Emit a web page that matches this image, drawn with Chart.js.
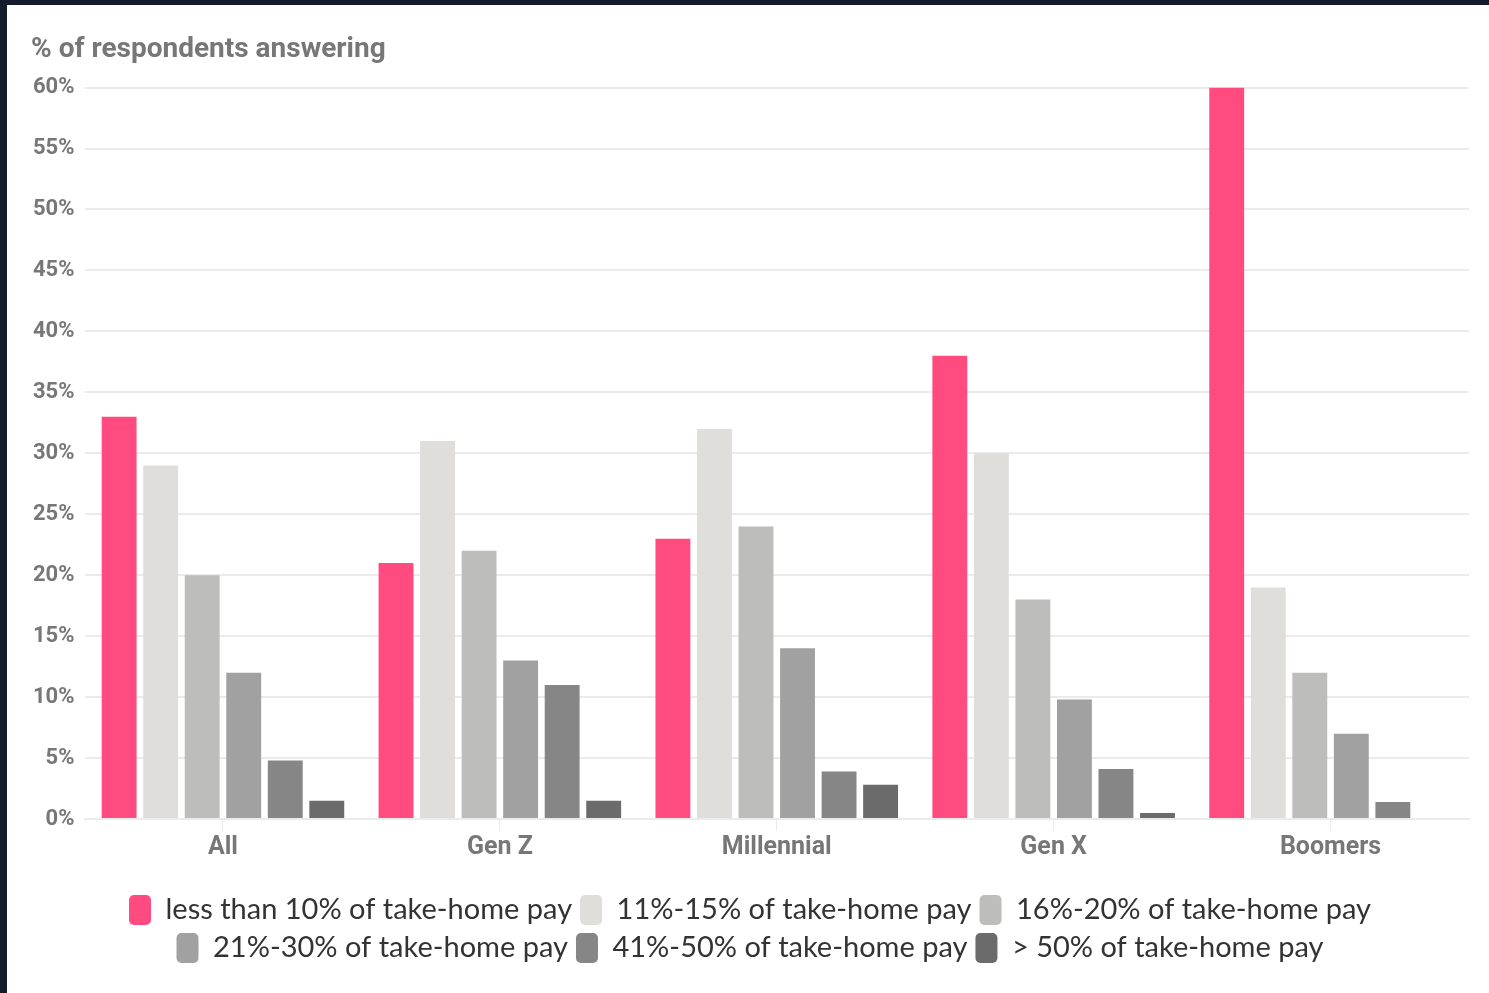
<!DOCTYPE html>
<html>
<head>
<meta charset="utf-8">
<script src="https://cdn.jsdelivr.net/npm/chart.js@4.4.0/dist/chart.umd.min.js"></script>
<style>
  html, body { margin: 0; padding: 0; background: #141b2d; }
  #wrap { position: absolute; left: 7px; top: 5px; width: 1482px; height: 988px; background: #fff; }
</style>
</head>
<body>
<div id="wrap"><canvas id="chart"></canvas></div>
<script>
// survey: share of take-home pay, by generation
const groups = ['All', 'Gen Z', 'Millennial', 'Gen X', 'Boomers'];
const seriesNames = [
  'less than 10% of take-home pay',
  '11%-15% of take-home pay',
  '16%-20% of take-home pay',
  '21%-30% of take-home pay',
  '41%-50% of take-home pay',
  '> 50% of take-home pay'
];
const lt10 = [33, 21, 23, 38, 60];
const p11to15 = [29, 31, 32, 30, 19];
const p16to20 = [20, 22, 24, 18, 12];
const p21to30 = [12, 13, 14, 9.8, 7];
const p41to50 = [4.8, 11, 3.9, 4.1, 1.4];
const over50 = [1.5, 1.5, 2.8, 0.5, null];
const yTicks = [0, 5, 10, 15, 20, 25, 30, 35, 40, 45, 50, 55, 60];

const colors = ['#ff4b80', '#dfdeda', '#bdbdbb', '#a1a1a1', '#868686', '#6b6b6b'];
const values = [lt10, p11to15, p16to20, p21to30, p41to50, over50];

const BOLD = 'Roboto, "Open Sans", sans-serif';
const LIGHT = 'Lato, "Open Sans", sans-serif';

new Chart(document.getElementById('chart'), {
  type: 'bar',
  data: {
    labels: groups,
    datasets: values.map((v, i) => ({
      label: seriesNames[i],
      data: v,
      backgroundColor: colors[i],
      borderWidth: 0,
      categoryPercentage: 0.9,
      barPercentage: 0.84
    }))
  },
  options: {
    responsive: true,
    maintainAspectRatio: false,
    animation: false,
    layout: { padding: { left: 24, right: 20, top: 8, bottom: 20 } },
    plugins: {
      title: {
        display: true,
        text: '% of respondents answering',
        align: 'start',
        color: '#777',
        font: { family: BOLD, size: 28, weight: 'bold' },
        padding: { top: 20, bottom: 21 }
      },
      legend: {
        position: 'bottom',
        labels: {
          color: '#333',
          font: { family: LIGHT, size: 29 },
          boxWidth: 22,
          boxHeight: 30,
          useBorderRadius: true,
          borderRadius: 5,
          padding: 8
        }
      },
      tooltip: { enabled: false }
    },
    scales: {
      x: {
        afterFit: axis => { axis.height += 22; },
        grid: { drawOnChartArea: false, offset: false, color: '#ebebeb', tickLength: 12 },
        border: { color: '#ebebeb', width: 2 },
        ticks: { color: '#777', font: { family: BOLD, size: 25, weight: 'bold' }, padding: 2 }
      },
      y: {
        min: 0,
        max: 60,
        afterFit: axis => { axis.width -= 8; },
        afterBuildTicks: axis => { axis.ticks = yTicks.map(v => ({ value: v })); },
        grid: { color: '#ebebeb', lineWidth: 2, drawTicks: false },
        border: { display: false },
        ticks: {
          color: '#777',
          font: { family: BOLD, size: 22, weight: 'bold' },
          padding: 10,
          callback: v => v + '%'
        }
      }
    }
  }
});
</script>
</body>
</html>
